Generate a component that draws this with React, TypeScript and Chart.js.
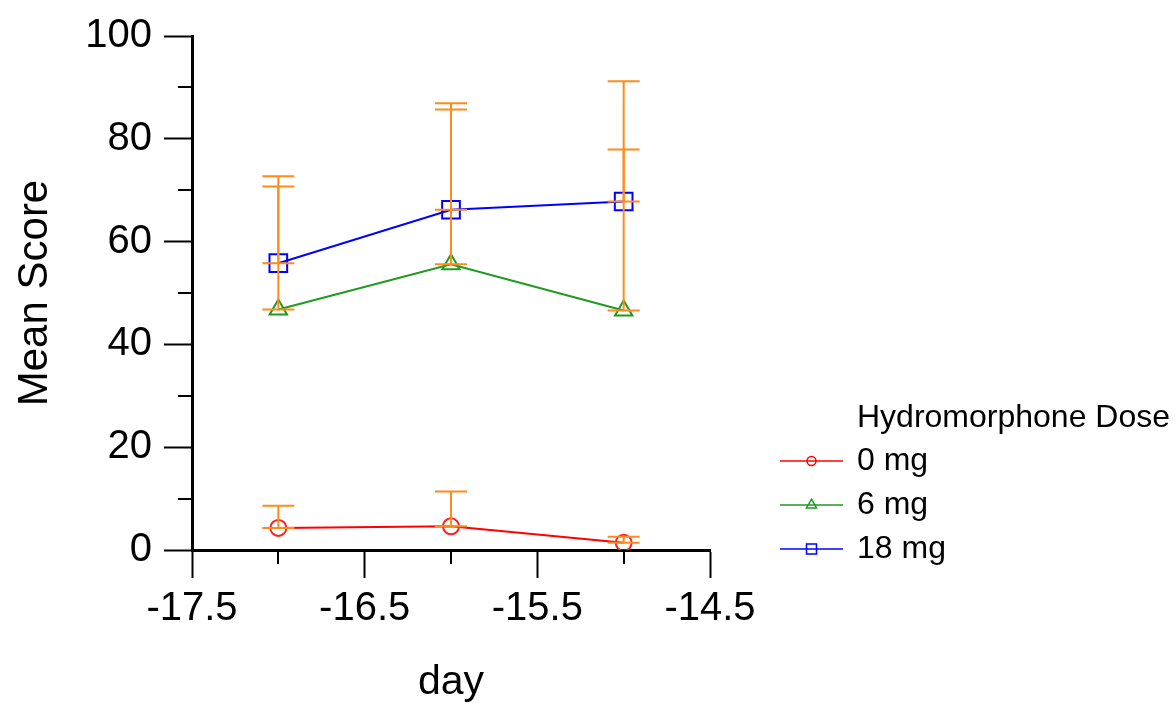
import React, { useEffect, useRef } from 'react';
import { Chart, registerables } from 'chart.js';

Chart.register(...registerables);

// ---- data ----
const days = [-17, -16, -15];
const doseLabels = ['0 mg', '6 mg', '18 mg'];
const mean0 = [4.3, 4.6, 1.4];
const upper0 = [8.6, 11.4, 2.6];
const mean6 = [46.8, 55.6, 46.6];
const upper6 = [70.7, 85.7, 77.9];
const mean18 = [55.8, 66.2, 67.8];
const upper18 = [72.7, 86.9, 91.2];
const xTickLabels = [-17.5, -16.5, -15.5, -14.5];
const yTickLabels = [0, 20, 40, 60, 80, 100];
const xMinorTicks = [-17, -16, -15];
const yMinorTicks = [10, 30, 50, 70, 90];
const legendTitle = 'Hydromorphone Dose';
const xTitle = 'day';
const yTitle = 'Mean Score';

const FONT = '"Liberation Sans", Arial, sans-serif';
const ERR_COLOR = '#FF8C1A';

function drawMarker(ctx: CanvasRenderingContext2D, style: string, x: number, y: number, r: number) {
  ctx.beginPath();
  if (style === 'circle') {
    ctx.arc(x, y, r, 0, Math.PI * 2);
  } else if (style === 'triangle') {
    let rad = 0;
    ctx.moveTo(x + Math.sin(rad) * r, y - Math.cos(rad) * r);
    rad += (2 * Math.PI) / 3;
    ctx.lineTo(x + Math.sin(rad) * r, y - Math.cos(rad) * r);
    rad += (2 * Math.PI) / 3;
    ctx.lineTo(x + Math.sin(rad) * r, y - Math.cos(rad) * r);
    ctx.closePath();
  } else {
    ctx.rect(x - r, y - r, 2 * r, 2 * r);
  }
  ctx.stroke();
}

const errorBarPlugin = {
  id: 'errorBars',
  afterDatasetsDraw(chart: any) {
    const ctx = chart.ctx;
    const xs = chart.scales.x;
    const ys = chart.scales.y;
    ctx.save();
    ctx.strokeStyle = ERR_COLOR;
    ctx.lineWidth = 2;
    chart.data.datasets.forEach((ds: any) => {
      ds.data.forEach((p: any, i: number) => {
        const up = ds.upper[i];
        const px = xs.getPixelForValue(p.x);
        const y1 = ys.getPixelForValue(p.y);
        const y2 = ys.getPixelForValue(up);
        const cap = 16;
        ctx.beginPath();
        ctx.moveTo(px, y1);
        ctx.lineTo(px, y2);
        ctx.moveTo(px - cap, y1);
        ctx.lineTo(px + cap, y1);
        ctx.moveTo(px - cap, y2);
        ctx.lineTo(px + cap, y2);
        ctx.stroke();
      });
    });
    ctx.restore();
  },
};

const minorTickPlugin = {
  id: 'minorTicks',
  afterDraw(chart: any) {
    const ctx = chart.ctx;
    const xs = chart.scales.x;
    const ys = chart.scales.y;
    const area = chart.chartArea;
    ctx.save();
    ctx.strokeStyle = '#000';
    ctx.lineWidth = 2;
    ctx.beginPath();
    yMinorTicks.forEach((v) => {
      const py = Math.round(ys.getPixelForValue(v));
      ctx.moveTo(area.left, py);
      ctx.lineTo(area.left - 14, py);
    });
    xMinorTicks.forEach((v) => {
      const px = Math.round(xs.getPixelForValue(v));
      ctx.moveTo(px, area.bottom);
      ctx.lineTo(px, area.bottom + 14);
    });
    ctx.stroke();
    ctx.restore();
  },
};

const legendPlugin = {
  id: 'customLegend',
  afterDraw(chart: any) {
    const ctx = chart.ctx;
    const area = chart.chartArea;
    const lineX0 = area.right + 70;
    const lineX1 = lineX0 + 63;
    const textX = lineX0 + 77;
    ctx.save();
    ctx.fillStyle = '#000';
    ctx.textBaseline = 'middle';
    ctx.textAlign = 'left';
    ctx.font = `32px ${FONT}`;
    ctx.fillText(legendTitle, textX, 418);
    const rs: Record<string, number> = { circle: 4.5, triangle: 5.8, rect: 5 };
    chart.data.datasets.forEach((ds: any, i: number) => {
      const y = 461 + i * 44;
      ctx.strokeStyle = ds.borderColor;
      ctx.lineWidth = 1.5;
      ctx.beginPath();
      ctx.moveTo(lineX0, y);
      ctx.lineTo(lineX1, y);
      ctx.stroke();
      const mx = (lineX0 + lineX1) / 2;
      drawMarker(ctx, ds.pointStyle, mx, y, rs[ds.pointStyle]);
      ctx.fillStyle = '#000';
      ctx.fillText(ds.label, textX, y);
    });
    ctx.restore();
  },
};

function App() {
  const ref = useRef<HTMLCanvasElement | null>(null);
  useEffect(() => {
    if (!ref.current) return;
    const mk = (m: number[]) => days.map((d, i) => ({ x: d, y: m[i] }));
    const chart = new Chart(ref.current, {
      type: 'line',
      data: {
        datasets: [
          {
            label: doseLabels[0],
            data: mk(mean0),
            upper: upper0,
            borderColor: '#FF0000',
            borderWidth: 2,
            pointStyle: 'circle',
            pointRadius: 8,
            pointBorderWidth: 2,
            pointBackgroundColor: 'rgba(0,0,0,0)',
            pointBorderColor: '#FF2020',
          } as any,
          {
            label: doseLabels[1],
            data: mk(mean6),
            upper: upper6,
            borderColor: '#1F9A1F',
            borderWidth: 2,
            pointStyle: 'triangle',
            pointRadius: 10,
            pointBorderWidth: 2,
            pointBackgroundColor: 'rgba(0,0,0,0)',
            pointBorderColor: '#1F9A1F',
          } as any,
          {
            label: doseLabels[2],
            data: mk(mean18),
            upper: upper18,
            borderColor: '#0000FF',
            borderWidth: 2,
            pointStyle: 'rect',
            pointRadius: 12.5,
            pointBorderWidth: 2,
            pointBackgroundColor: 'rgba(0,0,0,0)',
            pointBorderColor: '#0000FF',
          } as any,
        ],
      },
      options: {
        animation: false,
        responsive: false,
        layout: { padding: { top: 33, right: 465, left: 0, bottom: 0 } },
        plugins: {
          legend: { display: false },
          tooltip: { enabled: false },
        },
        scales: {
          x: {
            type: 'linear',
            min: -17.5,
            max: -14.5,
            afterFit: (s: any) => {
              s.height = 153;
            },
            ticks: {
              stepSize: 0.5,
              autoSkip: false,
              maxRotation: 0,
              padding: 7,
              color: '#000',
              font: { family: FONT, size: 40 },
              callback: (v: any) =>
                xTickLabels.some((t) => Math.abs(t - v) < 1e-6) ? Number(v).toFixed(1) : '',
            },
            grid: {
              drawOnChartArea: false,
              tickLength: 28,
              tickWidth: 2,
              tickColor: (c: any) =>
                c.tick && xTickLabels.some((t) => Math.abs(t - c.tick.value) < 1e-6) ? '#000' : 'rgba(0,0,0,0)',
            },
            border: { color: '#000', width: 3 },
            title: {
              display: true,
              text: xTitle,
              color: '#000',
              font: { family: FONT, size: 41 },
              padding: { top: 0, bottom: -4 },
            },
          },
          y: {
            type: 'linear',
            min: 0,
            max: 100,
            afterFit: (s: any) => {
              s.width = 192;
            },
            ticks: {
              stepSize: 10,
              autoSkip: false,
              padding: 12,
              color: '#000',
              font: { family: FONT, size: 40 },
              callback: (v: any) => (yTickLabels.includes(Number(v)) ? String(v) : ''),
            },
            grid: {
              drawOnChartArea: false,
              tickLength: 28,
              tickWidth: 2,
              tickColor: (c: any) =>
                c.tick && yTickLabels.includes(c.tick.value) ? '#000' : 'rgba(0,0,0,0)',
            },
            border: { color: '#000', width: 3 },
            title: {
              display: true,
              text: yTitle,
              color: '#000',
              font: { family: FONT, size: 42 },
              padding: { top: 10, bottom: 0 },
            },
          },
        },
      },
      plugins: [errorBarPlugin, minorTickPlugin, legendPlugin],
    });
    return () => chart.destroy();
  }, []);
  return (
    <div style={{ position: 'absolute', left: 0, top: 0, width: 1175, height: 703, background: '#fff' }}>
      <canvas ref={ref} width={1175} height={703} />
    </div>
  );
}

export default App;
